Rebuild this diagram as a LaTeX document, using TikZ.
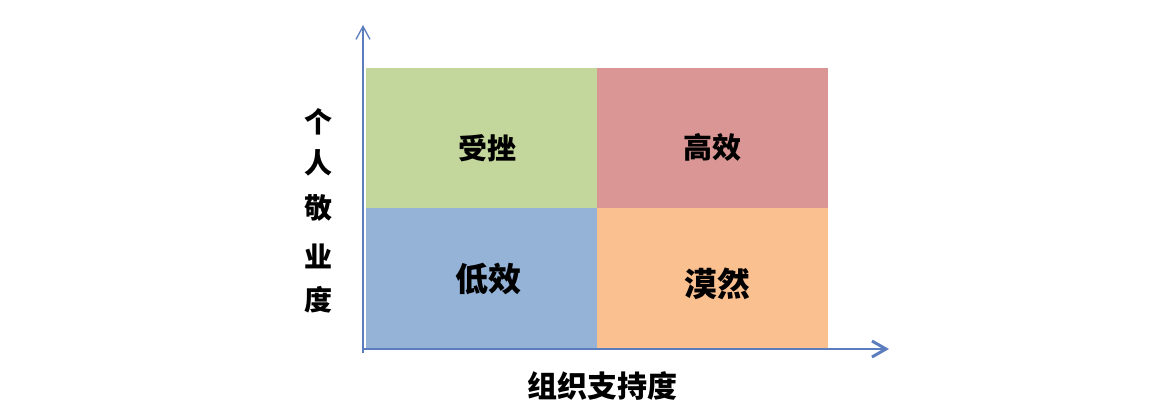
\documentclass[tikz,border=0pt]{standalone}
\usepackage{fontspec}
\newfontfamily\cjk{Noto Sans CJK SC Black}
\usetikzlibrary{arrows.meta}
\definecolor{qgreen}{HTML}{C3D69B}
\definecolor{qred}{HTML}{D99694}
\definecolor{qblue}{HTML}{95B3D7}
\definecolor{qorange}{HTML}{FAC090}
\definecolor{axisblue}{HTML}{5B7DBE}
\tikzset{
  quad/.style={inner sep=0pt, outer sep=0pt, draw=none, fill=#1, minimum width=231pt},
  qlabel/.style={font=\cjk\fontsize{#1}{#1}\selectfont, inner sep=0pt, text=black},
  axisline/.style={draw=axisblue, line width=2pt},
}
\begin{document}
\begin{tikzpicture}[x=1pt,y=-1pt]
\useasboundingbox (0,0) rectangle (1170,413);
\fill[white] (0,0) rectangle (1170,413);
% quadrants
\node[quad=qgreen, minimum height=140pt] (g) at (481.5,138) {};
\node[quad=qred, minimum height=140pt] (r) at (712.5,138) {};
\node[quad=qblue, minimum height=141pt] (b) at (481.5,278.5) {};
\node[quad=qorange, minimum height=141pt] (o) at (712.5,278.5) {};
% labels
\node[qlabel=29] (t1) at (487,148) {受挫};
\node[qlabel=29] (t2) at (712,147) {高效};
\node[qlabel=33] (t3) at (488,279) {低效};
\node[qlabel=33] (t4) at (717,284) {漠然};
% axes
\coordinate (org) at (363,349);
\coordinate (ytip) at (363,25);
\coordinate (xtip) at (889,349);
\coordinate (ybot) at (363,353);
\draw[axisline, line width=1.6pt, -{Straight Barb[length=13pt,width=14pt,line width=1.3pt]}] (ybot) -- (ytip);
\draw[axisline, -{Straight Barb[length=14pt,width=16pt,line width=3pt]}] (org) -- (xtip);
% axis titles
\node[qlabel=28] (v1) at (318,122) {个};
\node[qlabel=28] (v2) at (318,163) {人};
\node[qlabel=28] (v3) at (318,208) {敬};
\node[qlabel=28] (v4) at (318,256) {业};
\node[qlabel=28] (v5) at (318,300) {度};
\node[qlabel=30] (h) at (602,386) {组织支持度};
\end{tikzpicture}
\end{document}
